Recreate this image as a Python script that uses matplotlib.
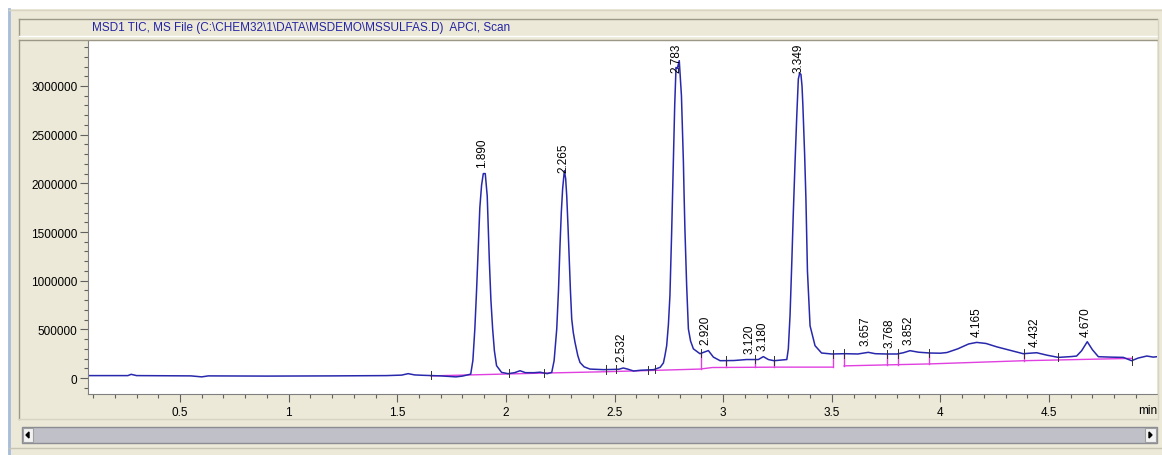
import numpy as np
import matplotlib
matplotlib.use('Agg')
import matplotlib.pyplot as plt
from matplotlib.patches import Rectangle, Polygon
from matplotlib.ticker import MultipleLocator, FixedLocator

W, H = 1162, 456

# signal trace (time in min, counts)
trace_t = [0.076, 0.20, 0.26, 0.275, 0.30, 0.55, 0.60, 0.63, 0.90, 1.20, 1.45, 1.52,
           1.55, 1.58, 1.62, 1.70, 1.77, 1.80, 1.838, 1.848, 1.857, 1.865, 1.873, 1.880,
           1.888, 1.896, 1.905, 1.914, 1.924, 1.931, 1.939, 1.947, 1.957, 1.98, 2.01,
           2.04, 2.065, 2.09, 2.13, 2.157, 2.19, 2.211, 2.222, 2.234, 2.242, 2.249, 2.255,
           2.261, 2.269, 2.275, 2.28, 2.286, 2.292, 2.297, 2.303, 2.310, 2.318, 2.331,
           2.341, 2.36, 2.387, 2.45, 2.52, 2.54, 2.56, 2.588, 2.62, 2.68, 2.71, 2.725,
           2.732, 2.740, 2.748, 2.755, 2.763, 2.771, 2.777, 2.783, 2.789, 2.798, 2.808,
           2.812, 2.817, 2.820, 2.824, 2.832, 2.840, 2.850, 2.863, 2.893, 2.932, 2.955,
           2.986, 3.05, 3.108, 3.162, 3.185, 3.208, 3.234, 3.293, 3.300, 3.308, 3.316,
           3.323, 3.331, 3.339, 3.346, 3.352, 3.358, 3.363, 3.367, 3.375, 3.381, 3.388,
           3.40, 3.423, 3.453, 3.50, 3.56, 3.62, 3.668, 3.70, 3.75, 3.80, 3.83, 3.86,
           3.90, 3.952, 4.00, 4.03, 4.08, 4.13, 4.167, 4.21, 4.26, 4.32, 4.381, 4.443,
           4.49, 4.543, 4.60, 4.627, 4.65, 4.676, 4.70, 4.727, 4.78, 4.842, 4.88, 4.91,
           4.95, 4.98, 5.0]
trace_v = [25000, 25000, 25000, 38000, 25000, 22000, 12000, 22000, 20000, 22000, 25000, 30000,
           45000, 32000, 28000, 22000, 12000, 20000, 40000, 180000, 504000, 900000, 1360000, 1750000,
           1980000, 2100000, 2100000, 1870000, 1190000, 800000, 504000, 280000, 127000, 58000, 45000,
           55000, 75000, 55000, 55000, 60000, 45000, 58000, 180000, 504000, 900000, 1360000, 1700000,
           1940000, 2130000, 2050000, 1870000, 1550000, 1190000, 900000, 606000, 470000, 367000, 230000,
           160000, 115000, 92000, 86000, 90000, 103000, 92000, 72000, 80000, 86000, 110000, 155000,
           230000, 332000, 550000, 846000, 1500000, 2220000, 2800000, 3190000, 3180000, 3260000, 2900000,
           2600000, 2220000, 1900000, 1530000, 950000, 504000, 380000, 300000, 250000, 282000, 215000,
           178000, 180000, 190000, 190000, 220000, 190000, 178000, 190000, 300000, 650000, 1190000,
           1700000, 2220000, 2700000, 3070000, 3130000, 3120000, 3000000, 2800000, 2300000, 1840000, 1100000,
           537000, 332000, 257000, 247000, 250000, 247000, 264000, 250000, 247000, 247000, 260000, 281000,
           265000, 257000, 255000, 262000, 300000, 350000, 366000, 355000, 320000, 285000, 250000, 260000,
           235000, 212000, 220000, 226000, 280000, 373000, 290000, 219000, 215000, 212000, 178000, 205000,
           226000, 215000, 220000]

# integration baseline (two pieces)
base1_t = [1.655, 2.157, 2.464, 2.893, 2.95, 3.25, 3.504]
base1_v = [22000, 50000, 65000, 92000, 108000, 112000, 112000]
base2_t = [3.557, 3.95, 4.385, 4.88]
base2_v = [125000, 145000, 178000, 202000]

peak_rt = ['1.890', '2.265', '2.532', '2.783', '2.920', '3.120', '3.180', '3.349',
           '3.657', '3.768', '3.852', '4.165', '4.432', '4.670']
drop_t = [2.898, 3.013, 3.146, 3.234, 3.504, 3.557, 3.752, 3.806, 3.949, 4.385]
event_t = [1.655, 2.014, 2.175, 2.459, 2.505, 2.653, 2.686, 2.898, 3.013, 3.146, 3.234,
           3.504, 3.557, 3.752, 3.806, 3.949, 4.385, 4.541, 4.88]

y_ticks = [0, 500000, 1000000, 1500000, 2000000, 2500000, 3000000]
x_ticks = [0.5, 1, 1.5, 2, 2.5, 3, 3.5, 4, 4.5]
x_labels = ['0.5', '1', '1.5', '2', '2.5', '3', '3.5', '4', '4.5']

title = 'MSD1 TIC, MS File (C:\\CHEM32\\1\\DATA\\MSDEMO\\MSSULFAS.D)  APCI, Scan'

BEIGE = '#ece9d8'
BLUE = '#2828ac'
MAGENTA = '#e040e0'

plt.rcParams['font.family'] = ['Liberation Sans', 'DejaVu Sans']

fig = plt.figure(figsize=(W / 100, H / 100), dpi=100)
fig.patch.set_facecolor(BEIGE)


def box(x0, y0, x1, y1, **kw):
    r = Rectangle((x0 / W, 1 - y1 / H), (x1 - x0) / W, (y1 - y0) / H,
                  transform=fig.transFigure, **kw)
    fig.patches.append(r)
    return r


def hline(x0, x1, y, c, lw=1):
    fig.lines.append(plt.Line2D([x0 / W, x1 / W], [1 - y / H, 1 - y / H],
                                transform=fig.transFigure, color=c, lw=lw))


def vline(x, y0, y1, c, lw=1):
    fig.lines.append(plt.Line2D([x / W, x / W], [1 - y0 / H, 1 - y1 / H],
                                transform=fig.transFigure, color=c, lw=lw))


# window frame
box(0, 0, W, 10, facecolor='white', edgecolor='none')
box(0, 0, 8, H, facecolor='white', edgecolor='none')
vline(8.5, 10, H, '#a8bcdc', 2)
hline(9, W, 10.5, '#d8d4c4')
# title bar
box(19, 20, 1157, 37, facecolor=BEIGE, edgecolor='none')
hline(19, 1157, 20, '#9c9888')
vline(19, 20, 37, '#9c9888')
hline(19, 1157, 37, 'white')
fig.text(92 / W, 1 - 28.5 / H, title, ha='left', va='center', fontsize=8.5, color='#2424a4')
# plot panel border
hline(19, 1157, 41, '#9c9888')
vline(19, 41, 420, '#9c9888')
hline(19, 1157, 420, '#d8d4c4')
vline(1157.5, 20, 420, '#d8d4c4')
# scroll bar
box(22, 428, 1157, 444, facecolor='#c0c0c8', edgecolor='#8c8c94', lw=1)
box(23, 429, 33, 443, facecolor='#f2f2f2', edgecolor='#a0a0a0', lw=0.8)
box(1145, 429, 1156, 443, facecolor='#f2f2f2', edgecolor='#a0a0a0', lw=0.8)
fig.patches.append(Polygon([[26 / W, 1 - 436 / H], [29 / W, 1 - 433 / H], [29 / W, 1 - 439 / H]],
                           closed=True, transform=fig.transFigure, color='black'))
fig.patches.append(Polygon([[1152 / W, 1 - 436 / H], [1149 / W, 1 - 433 / H], [1149 / W, 1 - 439 / H]],
                           closed=True, transform=fig.transFigure, color='black'))
hline(9, W, 449, '#c8c4b4')

# plot area
ax = fig.add_axes([88 / W, 1 - 395 / H, (1157 - 88) / W, (395 - 42) / H])
ax.set_facecolor('white')
ax.set_xlim(0.0764, 4.997)
ax.set_ylim(-164000, 3462000)

ax.plot(base1_t, base1_v, color=MAGENTA, lw=1)
ax.plot(base2_t, base2_v, color=MAGENTA, lw=1)
for t in drop_t:
    top = np.interp(t, trace_t, trace_v)
    bot = np.interp(t, base1_t + base2_t, base1_v + base2_v)
    ax.plot([t, t], [top, bot], color=MAGENTA, lw=1)
ax.plot(trace_t, trace_v, color=BLUE, lw=1.1)
for t in event_t:
    v = np.interp(t, trace_t, trace_v)
    ax.plot([t, t], [v - 40000, v + 45000], color='#303030', lw=0.7)

# retention time labels sit just above the local maximum of the trace
ymax = ax.get_ylim()[1]
for lab in peak_rt:
    t = float(lab)
    v = max(np.interp(t + d, trace_t, trace_v) for d in (-0.01, 0, 0.01))
    if v > 3.0e6:
        ax.text(t, ymax - 15000, lab, rotation=90, ha='center', va='top', fontsize=8.5)
    else:
        ax.annotate(lab, (t, v), xytext=(0, 5), textcoords='offset points',
                    rotation=90, ha='center', va='bottom', fontsize=8.5)

for s in ['top', 'right']:
    ax.spines[s].set_visible(False)
for s in ['left', 'bottom']:
    ax.spines[s].set_color('#808080')
    ax.spines[s].set_linewidth(0.8)

ax.yaxis.set_major_locator(FixedLocator(y_ticks))
ax.set_yticklabels([str(v) for v in y_ticks])
ax.yaxis.set_minor_locator(MultipleLocator(100000))
ax.xaxis.set_major_locator(FixedLocator(x_ticks))
ax.set_xticklabels(x_labels)
ax.xaxis.set_minor_locator(MultipleLocator(0.1))
ax.tick_params(axis='both', which='major', length=6, width=0.8, color='#606060',
               labelsize=8.5, pad=1.5)
ax.tick_params(axis='both', which='minor', length=3, width=0.8, color='#606060')
ax.tick_params(axis='x', which='major', pad=3)
ax.text(1.0, -0.028, 'min', transform=ax.transAxes, ha='right', va='top', fontsize=8.5)

fig.savefig('out.png', dpi=100, facecolor=fig.get_facecolor())
